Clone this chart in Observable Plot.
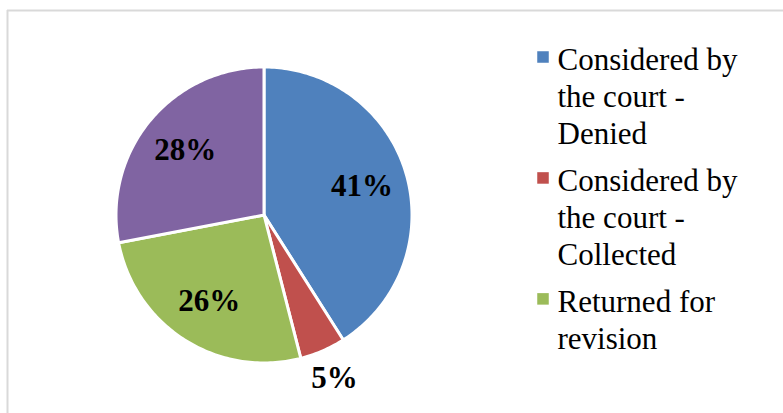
<!DOCTYPE html>
<html><head><meta charset="utf-8">
<script src="https://cdn.jsdelivr.net/npm/d3@7"></script>
<script src="https://cdn.jsdelivr.net/npm/@observablehq/plot@0.6"></script>
<style>
body{margin:0;background:#fff}
#chart{width:783px;height:413px;overflow:hidden}
</style>
</head><body><div id="chart"></div>
<script>
// ---- data ----
const categories = ["Considered by the court - Denied", "Considered by the court - Collected", "Returned for revision", "Other"];
const values = [41, 5, 26, 28];
const percentLabels = ["41%", "5%", "26%", "28%"];
const colors = ["#4f81bd", "#c0504d", "#9bbb59", "#8064a2"];
const legendLabels = ["Considered by\nthe court -\nDenied", "Considered by\nthe court -\nCollected", "Returned for\nrevision"];

// ---- layout ----
const W = 783, H = 413;
const cx = 263.5, cy = 214.5, R = 148;
const font = "'Liberation Serif', 'Times New Roman', serif";
const fs = 31, lh = 1.18;

const arcs = d3.pie().sort(null).value(d => d)(values);

const slicePts = [];
arcs.forEach((a, i) => {
  slicePts.push({cat: categories[i], x: cx, y: cy});
  const n = Math.max(2, Math.ceil((a.endAngle - a.startAngle) / (Math.PI / 180)));
  for (let k = 0; k <= n; k++) {
    const t = a.startAngle + (a.endAngle - a.startAngle) * k / n;
    slicePts.push({cat: categories[i], x: cx + R * Math.sin(t), y: cy - R * Math.cos(t)});
  }
});

const labelPts = arcs.map((a, i) => {
  const m = (a.startAngle + a.endAngle) / 2;
  const rr = values[i] < 10 ? 1.2 * R : 0.69 * R;
  return {text: percentLabels[i], x: cx + rr * Math.sin(m), y: cy - rr * Math.cos(m)};
});

// legend rows
const legendX = 542.5, textX = 557;
const firstBaseline = 66, gap = 11.2;
let lineCount = 0;
const legendRows = legendLabels.map((lab, i) => {
  const baseline = firstBaseline + lineCount * fs * lh + i * gap;
  lineCount += lab.split("\n").length;
  return {label: lab, cat: categories[i], baseline, top: baseline - 0.71 * fs, sq: baseline - 9.5};
});

const chart = Plot.plot({
  width: W, height: H, margin: 0,
  x: {type: "identity", axis: null}, y: {type: "identity", axis: null},
  color: {type: "ordinal", domain: categories, range: colors},
  style: {background: "white", fontFamily: font},
  marks: [
    Plot.ruleY([10], {x1: 7, x2: W, stroke: "#d9d9d9", strokeWidth: 2}),
    Plot.ruleX([7], {y1: 10, y2: H, stroke: "#d9d9d9", strokeWidth: 2}),
    Plot.line(slicePts, {x: "x", y: "y", z: "cat", fill: "cat", stroke: "white", strokeWidth: 3, curve: "linear-closed", strokeLinejoin: "round"}),
    Plot.text(labelPts, {x: "x", y: "y", text: "text", fontSize: fs, fontWeight: "bold", fontFamily: font, fill: "black", textAnchor: "middle", lineAnchor: "middle"}),
    Plot.dot(legendRows, {x: () => legendX, y: "sq", symbol: "square", r: 6.5, fill: "cat", stroke: null}),
    Plot.text(legendRows, {x: () => textX, y: "top", text: "label", fontSize: fs, fontFamily: font, fill: "black", textAnchor: "start", lineAnchor: "top", lineHeight: lh})
  ]
});
document.getElementById("chart").appendChild(chart);
</script>
</body></html>
